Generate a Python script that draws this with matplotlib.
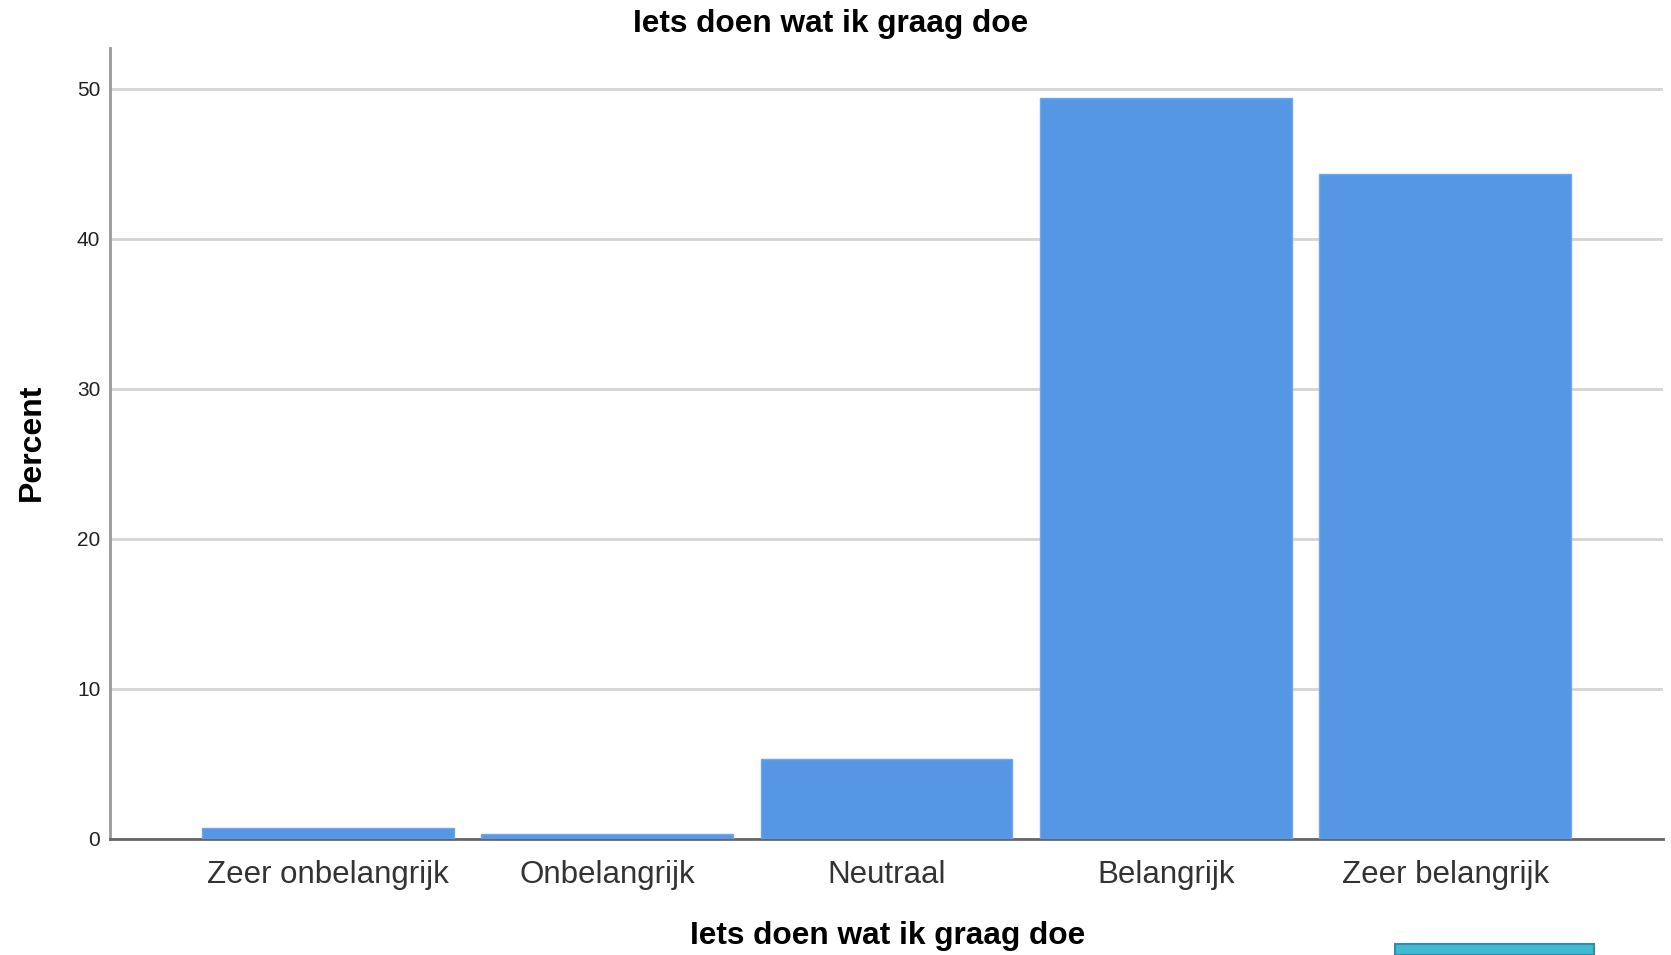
import matplotlib
matplotlib.use("Agg")
import matplotlib.pyplot as plt
from matplotlib.patches import Rectangle

categories = ["Zeer onbelangrijk", "Onbelangrijk", "Neutraal", "Belangrijk", "Zeer belangrijk"]
percent = [0.7, 0.3, 5.3, 49.4, 44.3]
yticks = [0, 10, 20, 30, 40, 50]
title = "Iets doen wat ik graag doe"

plt.rcParams['font.family'] = ['Liberation Sans', 'DejaVu Sans']

fig = plt.figure(figsize=(16.71, 9.55), dpi=100)
ax = fig.add_axes([110/1671, 1-839/955, (1663-110)/1671, (839-48)/955])

x = list(range(len(categories)))
ax.bar(x, percent, width=0.9, color='#5596E5', edgecolor='#6FA8EC', linewidth=1, zorder=3)

ax.set_xlim(-0.78, 4.78)
ax.set_ylim(0, 52.7)
ax.set_yticks(yticks)
ax.set_yticklabels([str(t) for t in yticks], fontsize=15, color='#222222')
ax.set_xticks(x)
ax.set_xticklabels(categories, fontsize=22.5, color='#333333')
ax.tick_params(axis='both', length=0)
ax.tick_params(axis='x', pad=15)
ax.tick_params(axis='y', pad=7)

ax.yaxis.grid(True, color='#D4D4D4', linewidth=2, zorder=0)
ax.set_axisbelow(True)
for s in ['top', 'right']:
    ax.spines[s].set_visible(False)
ax.spines['left'].set_color('#999999')
ax.spines['left'].set_linewidth(2)
ax.spines['bottom'].set_color('#666666')
ax.spines['bottom'].set_linewidth(2)

fig.text(831/1671, 1-24/955, title, ha='center', va='center', fontsize=22.8, fontweight='bold')
fig.text(888/1671, 1-936/955, title, ha='center', va='center', fontsize=22.8, fontweight='bold')
fig.text(32/1671, 1-442/955, "Percent", ha='center', va='center', rotation=90, fontsize=23, fontweight='bold')

fig.patches.append(Rectangle((1395/1671, 0), (1594-1395)/1671, (955-944)/955,
                             transform=fig.transFigure, facecolor='#41BAD4',
                             edgecolor='#2E8FA5', linewidth=1.5))

fig.savefig("out.png", dpi=100)
